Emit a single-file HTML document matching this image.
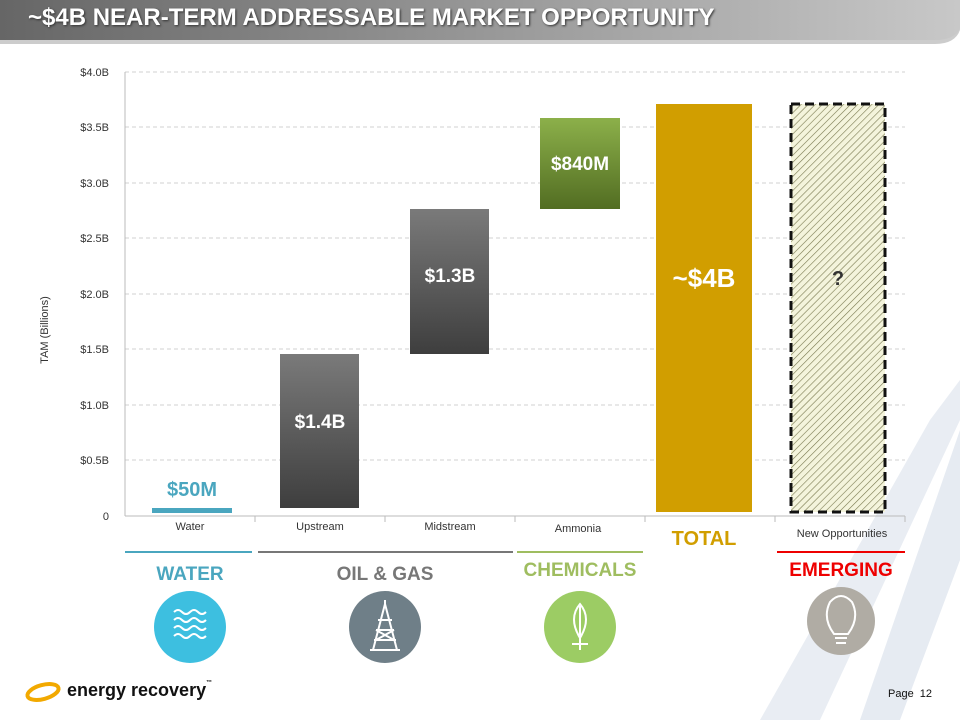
<!DOCTYPE html>
<html><head><meta charset="utf-8"><style>
body{margin:0;width:960px;height:720px;overflow:hidden;background:#fff;font-family:"Liberation Sans",sans-serif;position:relative}
.a{position:absolute}
</style></head><body>
<svg class="a" style="left:0;top:0" width="960" height="720">
<defs>
<linearGradient id="tb" x1="0" x2="1"><stop offset="0" stop-color="#666"/><stop offset="1" stop-color="#c8c8c8"/></linearGradient>
<linearGradient id="gr" x1="0" x2="0" y1="0" y2="1"><stop offset="0" stop-color="#7a7a7a"/><stop offset="1" stop-color="#3e3e3e"/></linearGradient>
<linearGradient id="gn" x1="0" x2="0" y1="0" y2="1"><stop offset="0" stop-color="#8cb04a"/><stop offset="1" stop-color="#526d22"/></linearGradient>
<pattern id="h" width="5" height="5" patternUnits="userSpaceOnUse" patternTransform="rotate(45)"><rect width="5" height="5" fill="#f4f4dc"/><line x1="0" y1="0" x2="0" y2="5" stroke="#7a7a50" stroke-width="1.2"/></pattern>
</defs>
<path d="M860 720 L960 430 L960 560 L900 720Z" fill="#e6ebf2"/>
<path d="M760 720 L930 420 L960 380 L960 420 L820 720Z" fill="#e9edf3"/>
<path d="M0 2 H960 V30 Q955 44 935 44 H0Z" fill="#999" opacity="0.5"/>
<path d="M0 0 H960 V28 Q955 40 935 40 H0Z" fill="url(#tb)"/>
<g stroke="#d0d0d0" stroke-dasharray="4 3">
<line x1="125" x2="905" y1="72" y2="72"/><line x1="125" x2="905" y1="127" y2="127"/><line x1="125" x2="905" y1="183" y2="183"/><line x1="125" x2="905" y1="238" y2="238"/><line x1="125" x2="905" y1="294" y2="294"/><line x1="125" x2="905" y1="349" y2="349"/><line x1="125" x2="905" y1="405" y2="405"/><line x1="125" x2="905" y1="460" y2="460"/>
</g>
<line x1="125" x2="125" y1="72" y2="516" stroke="#bbb"/>
<line x1="125" x2="905" y1="516" y2="516" stroke="#bbb"/>
<g stroke="#bbb"><line x1="255" x2="255" y1="516" y2="522"/><line x1="385" x2="385" y1="516" y2="522"/><line x1="515" x2="515" y1="516" y2="522"/><line x1="645" x2="645" y1="516" y2="522"/><line x1="775" x2="775" y1="516" y2="522"/><line x1="905" x2="905" y1="516" y2="522"/></g>
<rect x="152" y="508" width="80" height="5" fill="#4aa6bf"/>
<rect x="280" y="354" width="79" height="154" fill="url(#gr)"/>
<rect x="410" y="209" width="79" height="145" fill="url(#gr)"/>
<rect x="540" y="118" width="80" height="91" fill="url(#gn)"/>
<rect x="656" y="104" width="96" height="408" fill="#d19e00"/>
<rect x="791" y="104" width="94" height="408" fill="url(#h)" stroke="#111" stroke-width="3" stroke-dasharray="9 5"/>
<g font-size="11" fill="#333" text-anchor="end"><text x="109" y="76">$4.0B</text><text x="109" y="131">$3.5B</text><text x="109" y="187">$3.0B</text><text x="109" y="242">$2.5B</text><text x="109" y="298">$2.0B</text><text x="109" y="353">$1.5B</text><text x="109" y="409">$1.0B</text><text x="109" y="464">$0.5B</text><text x="109" y="520">0</text></g>
<text transform="translate(48,330) rotate(-90)" font-size="11" fill="#333" text-anchor="middle">TAM (Billions)</text>
<g font-size="11" fill="#333" text-anchor="middle"><text x="190" y="530">Water</text><text x="320" y="530">Upstream</text><text x="450" y="530">Midstream</text><text x="578" y="532">Ammonia</text><text x="842" y="537">New Opportunities</text></g>
<g font-weight="bold" fill="#fff" text-anchor="middle" font-size="19"><text x="320" y="428">$1.4B</text><text x="450" y="282">$1.3B</text><text x="580" y="170">$840M</text><text x="704" y="287" font-size="26">~$4B</text></g>
<text x="838" y="285" font-weight="bold" font-size="20" fill="#333" text-anchor="middle">?</text>
<text x="192" y="496" font-weight="bold" font-size="20" fill="#4aa6bf" text-anchor="middle">$50M</text>
<text x="704" y="545" font-weight="bold" font-size="20" fill="#d19e00" text-anchor="middle">TOTAL</text>
<line x1="125" x2="252" y1="552" y2="552" stroke="#4aa6bf" stroke-width="2"/>
<line x1="258" x2="513" y1="552" y2="552" stroke="#777" stroke-width="2"/>
<line x1="517" x2="643" y1="552" y2="552" stroke="#9fbd60" stroke-width="2"/>
<line x1="777" x2="905" y1="552" y2="552" stroke="#e00" stroke-width="2"/>
<g font-weight="bold" font-size="19" text-anchor="middle"><text x="190" y="580" fill="#4aa6bf">WATER</text><text x="385" y="580" fill="#777">OIL &amp; GAS</text><text x="580" y="576" fill="#9fbd60">CHEMICALS</text><text x="841" y="576" fill="#e00">EMERGING</text></g>
<circle cx="190" cy="627" r="36" fill="#3dbfe0"/>
<g stroke="#fff" stroke-width="2" fill="none"><path d="M174 612 q4-4 8 0 t8 0 t8 0 t8 0"/><path d="M174 620 q4-4 8 0 t8 0 t8 0 t8 0"/><path d="M174 628 q4-4 8 0 t8 0 t8 0 t8 0"/><path d="M174 636 q4-4 8 0 t8 0 t8 0 t8 0"/></g>
<circle cx="385" cy="627" r="36" fill="#6f7f88"/>
<path d="M385 604 L373 650 M385 604 L397 650 M378 620 H392 M376 630 H394 M374 640 H396 M376 630 L394 640 M394 630 L376 640 M370 650 H400 M385 600 V606" stroke="#fff" stroke-width="2" fill="none"/>
<circle cx="580" cy="627" r="36" fill="#9ccc64"/>
<path d="M580 604 Q568 618 580 638 Q592 618 580 604Z M580 606 V650 M572 644 H588" stroke="#fff" stroke-width="2" fill="none"/>
<circle cx="841" cy="621" r="34" fill="#b0aca4"/>
<path d="M834 634 Q822 618 830 602 Q841 590 852 602 Q860 618 848 634Z M835 638 H847 M836 643 H846" stroke="#fff" stroke-width="2" fill="none"/>
<ellipse cx="43" cy="692" rx="16" ry="7" fill="none" stroke="#f2a900" stroke-width="4" transform="rotate(-15 43 692)"/>
</svg>
<div class="a" style="left:28px;top:4px;color:#fff;font-weight:bold;font-size:24px;text-shadow:1px 1px 2px #333">~$4B NEAR-TERM ADDRESSABLE MARKET OPPORTUNITY</div>
<div class="a" style="left:67px;top:680px;font-size:18px;font-weight:bold;color:#111">energy recovery<span style="font-size:6px;vertical-align:top">™</span></div>
<div class="a" style="left:888px;top:688px;font-size:11px;color:#111">Page &nbsp;12</div>
</body></html>
